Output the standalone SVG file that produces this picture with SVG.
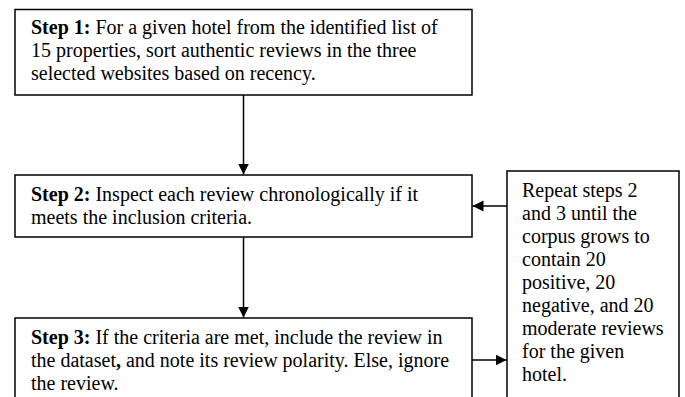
<svg xmlns="http://www.w3.org/2000/svg" width="685" height="397" viewBox="0 0 685 397">
<style>
.box{fill:#fff;stroke:#000;stroke-width:1.5}
.t{font-family:"Liberation Serif","Times New Roman",serif;font-size:20px;fill:#000}
.b{font-weight:bold}
.c{stroke:#000;stroke-width:1.5;fill:none}
</style>
<defs>
<marker id="ah" markerWidth="12" markerHeight="12" refX="11" refY="6" orient="auto" markerUnits="userSpaceOnUse">
<path d="M0,0.5 L11,6 L0,11.5 Z" fill="#000"/>
</marker>
</defs>
<rect width="685" height="397" fill="#fff"/>
<g id="step1">
<rect class="box" x="15" y="9.5" width="457" height="85.5"/>
<text class="t" x="31" y="34"><tspan class="b">Step 1:</tspan> For a given hotel from the identified list of</text>
<text class="t" x="31" y="57">15 properties, sort authentic reviews in the three</text>
<text class="t" x="31" y="80">selected websites based on recency.</text>
</g>
<g id="step2">
<rect class="box" x="15" y="175" width="457" height="62"/>
<text class="t" x="31" y="201"><tspan class="b">Step 2:</tspan> Inspect each review chronologically if it</text>
<text class="t" x="31" y="224">meets the inclusion criteria.</text>
</g>
<g id="step3">
<rect class="box" x="15" y="318" width="457" height="90"/>
<text class="t" x="31" y="344"><tspan class="b">Step 3:</tspan> If the criteria are met, include the review in</text>
<text class="t" x="31" y="367">the dataset<tspan class="b">,</tspan> and note its review polarity. Else, ignore</text>
<text class="t" x="31" y="390">the review.</text>
</g>
<g id="repeat">
<rect class="box" x="507" y="171" width="172" height="240"/>
<text class="t" x="522" y="197">Repeat steps 2</text>
<text class="t" x="522" y="220">and 3 until the</text>
<text class="t" x="522" y="243">corpus grows to</text>
<text class="t" x="522" y="266">contain 20</text>
<text class="t" x="522" y="289">positive, 20</text>
<text class="t" x="522" y="312">negative, and 20</text>
<text class="t" x="522" y="335">moderate reviews</text>
<text class="t" x="522" y="358">for the given</text>
<text class="t" x="522" y="381">hotel.</text>
</g>
<g id="connectors">
<line class="c" x1="243.5" y1="95" x2="243.5" y2="174.5" marker-end="url(#ah)"/>
<line class="c" x1="243.5" y1="237" x2="243.5" y2="317.5" marker-end="url(#ah)"/>
<line class="c" x1="507" y1="206" x2="472.5" y2="206" marker-end="url(#ah)"/>
<line class="c" x1="472" y1="360" x2="506.5" y2="360" marker-end="url(#ah)"/>
</g>
</svg>
